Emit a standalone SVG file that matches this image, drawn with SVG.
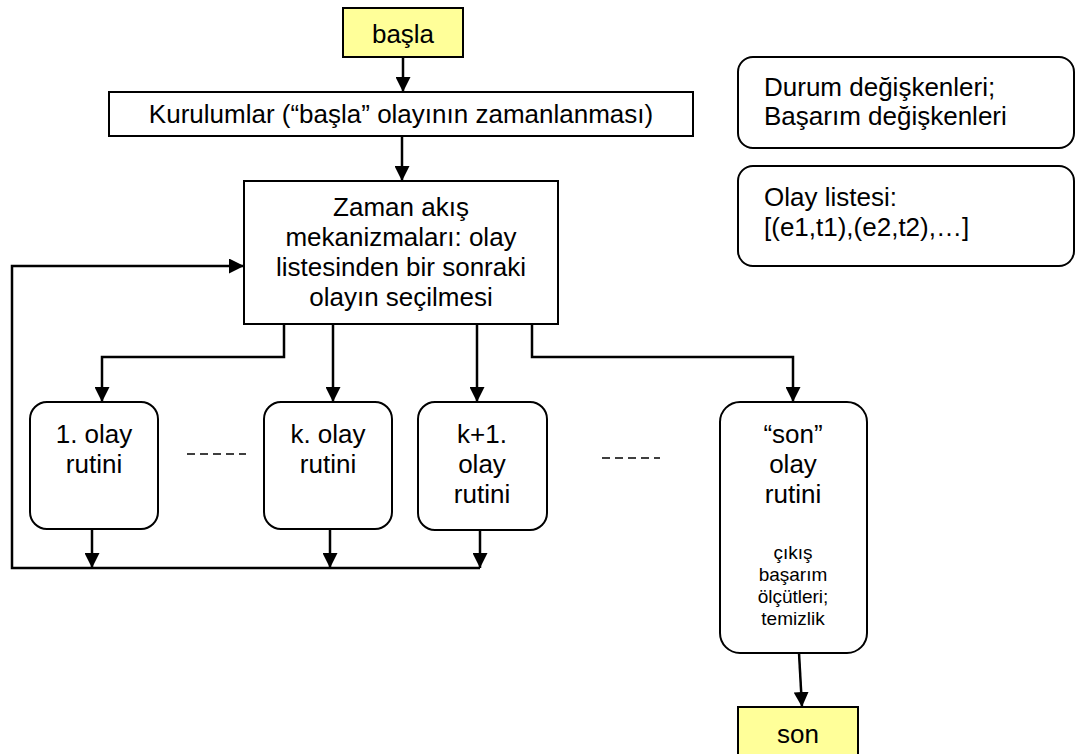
<svg xmlns="http://www.w3.org/2000/svg" width="1075" height="754" viewBox="0 0 1075 754">
  <style>
    .box { fill: #ffffff; stroke: #000000; stroke-width: 2; }
    .term { fill: #ffff99; stroke: #000000; stroke-width: 2; }
    .t { font-family: "Liberation Sans", Arial, sans-serif; font-size: 26px; fill: #000000; }
    .c { text-anchor: middle; }
    .s { font-family: "Liberation Sans", Arial, sans-serif; font-size: 19px; fill: #000000; text-anchor: middle; }
    .wire { fill: none; stroke: #000000; stroke-width: 2.5; }
    .dash { fill: none; stroke: #000000; stroke-width: 1.4; stroke-dasharray: 8 5; }
  </style>
  <defs>
    <marker id="arrow" viewBox="0 0 10 10" refX="10" refY="5" markerWidth="15" markerHeight="15" markerUnits="userSpaceOnUse" orient="auto">
      <path d="M0,0 L10,5 L0,10 Z" fill="#000000"/>
    </marker>
  </defs>
  <rect width="1075" height="754" fill="#ffffff"/>

  <!-- connectors -->
  <g id="connectors">
    <path class="wire" d="M403,57 V92" marker-end="url(#arrow)"/>
    <path class="wire" d="M402,136 V181" marker-end="url(#arrow)"/>
    <path class="wire" d="M480,568 H12 V266 H244" marker-end="url(#arrow)"/>
    <path class="wire" d="M284,324 V357 H102 V402" marker-end="url(#arrow)"/>
    <path class="wire" d="M333,324 V402" marker-end="url(#arrow)"/>
    <path class="wire" d="M477,324 V402" marker-end="url(#arrow)"/>
    <path class="wire" d="M532,324 V357 H793 V402" marker-end="url(#arrow)"/>
    <path class="wire" d="M92,529 V568" marker-end="url(#arrow)"/>
    <path class="wire" d="M330,529 V568" marker-end="url(#arrow)"/>
    <path class="wire" d="M480,530 V568" marker-end="url(#arrow)"/>
    <path class="wire" d="M799,653 L802,707" marker-end="url(#arrow)"/>
    <path class="dash" d="M187,454 H246"/>
    <path class="dash" d="M602,458 H660"/>
  </g>

  <g id="start">
    <rect class="term" x="343" y="8" width="120" height="49"/>
    <text class="t c" x="403" y="43">başla</text>
  </g>

  <g id="init">
    <rect class="box" x="109" y="92" width="584" height="44"/>
    <text class="t c" x="401" y="123">Kurulumlar (“başla” olayının zamanlanması)</text>
  </g>

  <g id="state-vars">
    <rect class="box" x="738" y="57" width="336" height="91" rx="15"/>
    <text class="t" x="764" y="96">Durum değişkenleri;</text>
    <text class="t" x="764" y="125">Başarım değişkenleri</text>
  </g>

  <g id="event-list">
    <rect class="box" x="738" y="166" width="336" height="100" rx="15"/>
    <text class="t" x="764" y="206">Olay listesi:</text>
    <text class="t" x="764" y="236">[(e1,t1),(e2,t2),…]</text>
  </g>

  <g id="timing">
    <rect class="box" x="244" y="181" width="314" height="143"/>
    <text class="t c" x="401" y="216">Zaman akış</text>
    <text class="t c" x="401" y="246">mekanizmaları: olay</text>
    <text class="t c" x="401" y="276">listesinden bir sonraki</text>
    <text class="t c" x="401" y="306">olayın seçilmesi</text>
  </g>

  <g id="event-1">
    <rect class="box" x="30" y="402" width="128" height="127" rx="17"/>
    <text class="t c" x="94" y="443">1. olay</text>
    <text class="t c" x="94" y="473">rutini</text>
  </g>

  <g id="event-k">
    <rect class="box" x="264" y="402" width="128" height="127" rx="17"/>
    <text class="t c" x="328" y="443">k. olay</text>
    <text class="t c" x="328" y="473">rutini</text>
  </g>

  <g id="event-k1">
    <rect class="box" x="418" y="402" width="129" height="128" rx="17"/>
    <text class="t c" x="482" y="443">k+1.</text>
    <text class="t c" x="482" y="473">olay</text>
    <text class="t c" x="482" y="503">rutini</text>
  </g>

  <g id="event-end">
    <rect class="box" x="720" y="402" width="147" height="251" rx="20"/>
    <text class="t c" x="793" y="443">“son”</text>
    <text class="t c" x="793" y="473">olay</text>
    <text class="t c" x="793" y="503">rutini</text>
    <text class="s" x="793" y="559">çıkış</text>
    <text class="s" x="793" y="581">başarım</text>
    <text class="s" x="793" y="603">ölçütleri;</text>
    <text class="s" x="793" y="625">temizlik</text>
  </g>

  <g id="end">
    <rect class="term" x="738" y="707" width="120" height="60"/>
    <text class="t c" x="798" y="743">son</text>
  </g>
</svg>
